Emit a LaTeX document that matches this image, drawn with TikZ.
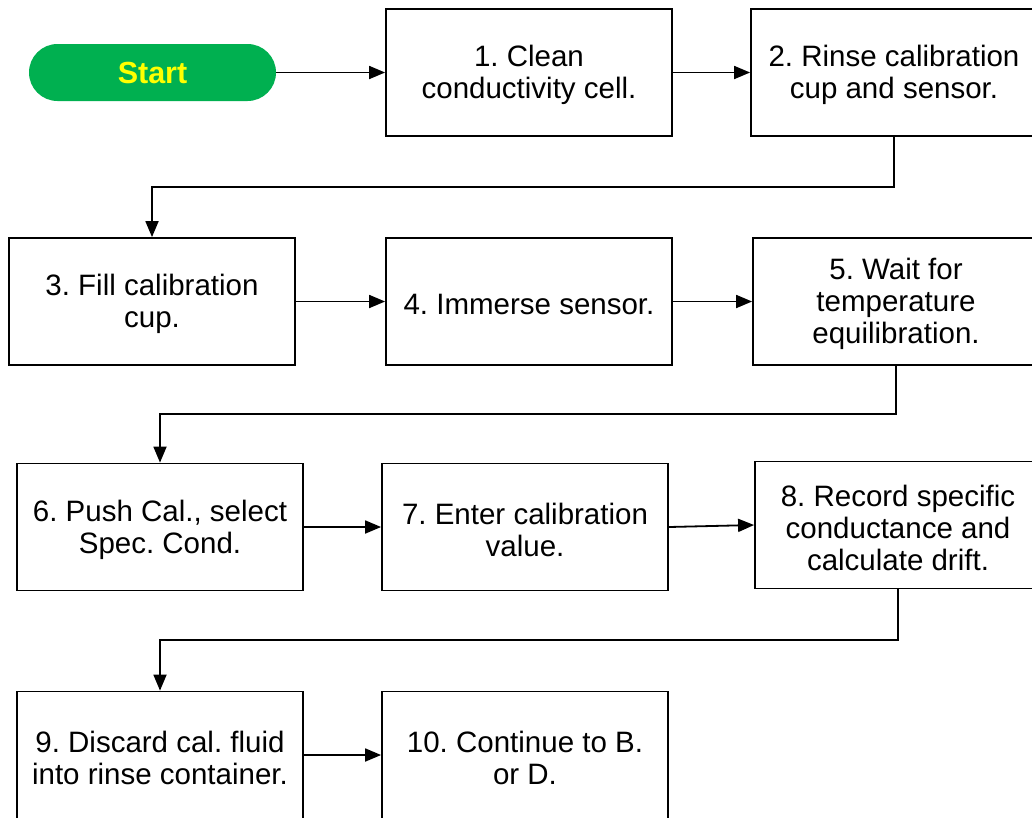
\documentclass[tikz,border=0pt]{standalone}
\usepackage{fontspec}
\setmainfont{Liberation Sans}
\frenchspacing
\usetikzlibrary{arrows.meta,calc}
\definecolor{startgreen}{HTML}{00B050}
\definecolor{startyellow}{HTML}{FFFF00}
\begin{document}
\begin{tikzpicture}[x=1pt,y=-1pt,
  stepbox/.style={draw=black,line width=1.8pt,minimum width=286pt,minimum height=127pt,
    inner sep=0pt,
    label={[align=center,inner sep=0pt,yshift=-2.5pt,font=\fontsize{29.5}{32}\selectfont]center:#1}},
  startbox/.style={fill=startgreen,draw=none,rounded corners=28.5pt,minimum width=247pt,
    minimum height=57pt,inner sep=0pt,font=\fontsize{30.5}{32}\selectfont\bfseries,text=startyellow},
  arr/.style={line width=1.8pt,-{Triangle[length=16pt,width=13pt]}}]
\useasboundingbox (0,0) rectangle (1032,817);
\clip (0,0) rectangle (1032,817);
\node[startbox] (start) at (152.5,72.5) {Start};
\node[stepbox={1. Clean\\conductivity cell.}] (b1) at (529,72.5) {};
\node[stepbox={2. Rinse calibration\\cup and sensor.}] (b2) at (894,72.5) {};
\node[stepbox={3. Fill calibration\\cup.}] (b3) at (152,301.5) {};
\node[stepbox={4. Immerse sensor.}] (b4) at (529,301.5) {};
\node[stepbox={5. Wait for\\temperature\\equilibration.}] (b5) at (896,301.5) {};
\node[stepbox={6. Push Cal., select\\Spec. Cond.}] (b6) at (160,527) {};
\node[stepbox={7. Enter calibration\\value.}] (b7) at (525,527) {};
\node[stepbox={8. Record specific\\conductance and\\calculate drift.}] (b8) at (898,525) {};
\node[stepbox={9. Discard cal. fluid\\into rinse container.}] (b9) at (160,755) {};
\node[stepbox={10. Continue to B.\\or D.}] (b10) at (525,755) {};
\draw[arr] (start.east) -- (b1.west);
\draw[arr] (b1.east) -- (b2.west);
\draw[arr] (b2.south) |- ($(b2.south)!.5!(b3.north)$) -| (b3.north);
\draw[arr] (b3.east) -- (b4.west);
\draw[arr] (b4.east) -- (b5.west);
\draw[arr] (b5.south) |- ($(b5.south)!.5!(b6.north)$) -| (b6.north);
\draw[arr] (b6.east) -- (b7.west);
\draw[arr] (b7.east) -- (b8.west);
\draw[arr] (b8.south) |- ($(b8.south)!.5!(b9.north)$) -| (b9.north);
\draw[arr] (b9.east) -- (b10.west);
\end{tikzpicture}
\end{document}
